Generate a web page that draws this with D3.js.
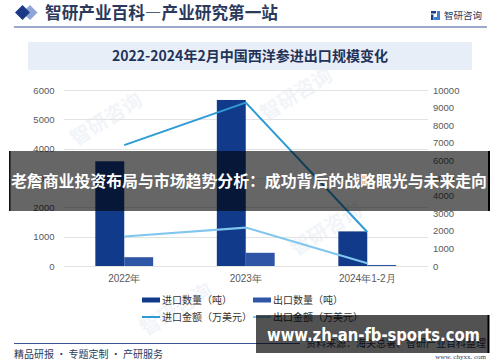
<!DOCTYPE html>
<html lang="zh">
<head>
<meta charset="utf-8">
<script src="https://d3js.org/d3.v7.min.js"></script>
<style type="text/css">
body {
  margin: 0;
  background: #fff;
  font-family: "Liberation Sans", "Noto Sans CJK SC", sans-serif;
}
.grid line {
  stroke: #e3e3e3;
  stroke-width: 1;
}
.axis text {
  font: 9.5px "Liberation Sans", sans-serif;
  fill: #595959;
}
.cn {
  font-family: "Noto Sans CJK SC", sans-serif;
}
</style>
<title>2022-2024年2月中国西洋参进出口规模变化</title>
</head>
<body>
<script type="text/javascript">
// data
var years = ["2022年", "2023年", "2024年1-2月"];
var importQty = [3570, 5660, 1180];    // 吨
var exportQty = [300, 450, 35];        // 吨
var importAmt = [6870, 9280, 1930];    // 万美元
var exportAmt = [1680, 2180, 160];     // 万美元
var leftTicks = [0, 1000, 2000, 3000, 4000, 5000, 6000];
var rightTicks = [0, 1000, 2000, 3000, 4000, 5000, 6000, 7000, 8000, 9000, 10000];

var colors = ["#123a8a", "#2f56a6", "#2e9ad6", "#80c6ee"];
var legendNames = ["进口数量（吨）", "出口数量（吨）", "进口金额（万美元）", "出口金额（万美元）"];

var W = 500, H = 362;
var plot = {left: 63.5, right: 428, top: 90, bottom: 266};

var svg = d3.select("body").append("svg")
    .attr("width", W)
    .attr("height", H);

// faint watermarks
var wm = [[110, 125], [300, 100], [180, 315], [330, 235]];
wm.forEach(function(p) {
  svg.append("text")
    .attr("class", "cn")
    .attr("transform", "translate(" + p[0] + "," + p[1] + ") rotate(-32)")
    .attr("text-anchor", "middle")
    .style("font-size", "20px")
    .style("font-weight", "bold")
    .attr("fill", "#f1f4f9")
    .text("智研咨询");
});

// header
svg.append("path")
  .attr("d", "M30,5 L37.5,12.5 L30,20 L26,16 L29.5,12.5 L26,9 Z")
  .attr("fill", "#8ea6d6");
svg.append("path")
  .attr("d", "M22.5,5 L30,12.5 L22.5,20 L15,12.5 Z")
  .attr("fill", "#1a3a88");
svg.append("text")
  .attr("class", "cn")
  .attr("x", 45)
  .attr("y", 19)
  .attr("textLength", 233)
  .attr("lengthAdjust", "spacingAndGlyphs")
  .style("font-size", "17px")
  .style("font-weight", "bold")
  .attr("fill", "#2b3a5c")
  .text("智研产业百科—产业研究第一站");
svg.append("line")
  .attr("x1", 14).attr("x2", 487)
  .attr("y1", 27).attr("y2", 27)
  .attr("stroke", "#3a5592").attr("stroke-width", 1);

// small logo top right
var logo = svg.append("g").attr("transform", "translate(431,11)");
logo.append("rect").attr("x", 0).attr("y", 0).attr("width", 5).attr("height", 2.5).attr("fill", "#1a3a88");
logo.append("rect").attr("x", 0).attr("y", 3.5).attr("width", 2.5).attr("height", 5.5).attr("fill", "#1a3a88");
logo.append("rect").attr("x", 6).attr("y", 0).attr("width", 3).attr("height", 9).attr("fill", "#3c7fd0");
logo.append("rect").attr("x", 3).attr("y", 6).attr("width", 3).attr("height", 3).attr("fill", "#3c7fd0");
svg.append("text")
  .attr("class", "cn")
  .attr("x", 444)
  .attr("y", 19)
  .style("font-size", "9.5px")
  .attr("fill", "#2b3a5c")
  .text("智研咨询");

// title box
svg.append("rect")
  .attr("x", 28).attr("y", 42)
  .attr("width", 444).attr("height", 28)
  .attr("fill", "#e8eef8");
svg.append("text")
  .attr("class", "cn")
  .attr("x", 250)
  .attr("y", 61)
  .attr("text-anchor", "middle")
  .attr("textLength", 276)
  .attr("lengthAdjust", "spacingAndGlyphs")
  .style("font-size", "14px")
  .style("font-weight", "bold")
  .attr("fill", "#1f3358")
  .text("2022-2024年2月中国西洋参进出口规模变化");

// scales
var x = d3.scaleBand()
  .domain(years)
  .range([plot.left, plot.right]);
var yL = d3.scaleLinear().domain([0, 6000]).range([plot.bottom, plot.top]);
var yR = d3.scaleLinear().domain([0, 10000]).range([plot.bottom, plot.top]);
var barW = x.bandwidth() * 0.238;

// gridlines
svg.append("g")
  .attr("class", "grid")
  .selectAll("line")
  .data(leftTicks)
  .enter()
  .append("line")
    .attr("x1", plot.left).attr("x2", plot.right)
    .attr("y1", function(d) { return Math.round(yL(d)) + 0.5; })
    .attr("y2", function(d) { return Math.round(yL(d)) + 0.5; });

// axes
svg.append("g")
  .attr("class", "axis")
  .attr("transform", "translate(" + (plot.left - 5) + ",0)")
  .call(d3.axisLeft(yL).tickValues(leftTicks).tickSize(0).tickPadding(4).tickFormat(d3.format("d")))
  .call(function(g) { g.select(".domain").remove(); });

svg.append("g")
  .attr("class", "axis")
  .attr("transform", "translate(" + (plot.right + 1) + ",0)")
  .call(d3.axisRight(yR).tickValues(rightTicks).tickSize(0).tickPadding(4).tickFormat(d3.format("d")))
  .call(function(g) { g.select(".domain").remove(); });

svg.append("g")
  .attr("class", "axis")
  .attr("transform", "translate(0," + (plot.bottom + 4) + ")")
  .call(d3.axisBottom(x).tickSize(0).tickPadding(5))
  .call(function(g) { g.select(".domain").remove(); })
  .selectAll("text")
    .attr("class", "cn")
    .style("font-size", "10px")
    .attr("fill", "#333");

// bars
svg.append("g")
  .selectAll("rect")
  .data(importQty)
  .enter()
  .append("rect")
    .attr("x", function(d, i) { return x(years[i]) + x.bandwidth() / 2 - barW; })
    .attr("y", function(d) { return yL(d); })
    .attr("width", barW)
    .attr("height", function(d) { return plot.bottom - yL(d); })
    .attr("fill", colors[0]);

svg.append("g")
  .selectAll("rect")
  .data(exportQty)
  .enter()
  .append("rect")
    .attr("x", function(d, i) { return x(years[i]) + x.bandwidth() / 2; })
    .attr("y", function(d) { return yL(d); })
    .attr("width", barW)
    .attr("height", function(d) { return plot.bottom - yL(d); })
    .attr("fill", colors[1]);

// lines
var line = d3.line()
  .x(function(d, i) { return x(years[i]) + x.bandwidth() / 2; })
  .y(function(d) { return yR(d); });

svg.append("path")
  .datum(importAmt)
  .attr("d", line)
  .attr("fill", "none")
  .attr("stroke", colors[2])
  .attr("stroke-width", 2);

svg.append("path")
  .datum(exportAmt)
  .attr("d", line)
  .attr("fill", "none")
  .attr("stroke", colors[3])
  .attr("stroke-width", 2);

// legend
var legPos = [[142, 300], [253, 300], [142, 317], [253, 317]];
legendNames.forEach(function(name, i) {
  var g = svg.append("g").attr("transform", "translate(" + legPos[i][0] + "," + legPos[i][1] + ")");
  if (i < 2) {
    g.append("rect").attr("x", 0).attr("y", -2.5).attr("width", 18).attr("height", 5).attr("fill", colors[i]);
  } else {
    g.append("line").attr("x1", 0).attr("x2", 18).attr("y1", 0).attr("y2", 0)
      .attr("stroke", colors[i]).attr("stroke-width", 2);
  }
  g.append("text")
    .attr("class", "cn")
    .attr("x", 20)
    .attr("y", 3.5)
    .style("font-size", "10px")
    .attr("fill", "#333")
    .text(name);
});

// footer
svg.append("line")
  .attr("x1", 14).attr("x2", 300)
  .attr("y1", 343.5).attr("y2", 343.5)
  .attr("stroke", "#3a5592").attr("stroke-width", 1);
svg.append("text")
  .attr("class", "cn")
  .attr("x", 14)
  .attr("y", 358)
  .style("font-size", "10px")
  .attr("fill", "#2b3a5c")
  .text("精品研报 · 专题定制 · 产研服务");
svg.append("text")
  .attr("class", "cn")
  .attr("x", 486)
  .attr("y", 347)
  .attr("text-anchor", "end")
  .style("font-size", "10px")
  .attr("fill", "#2b3a5c")
  .text("资料来源：海关总署、智研产业百科整理");
svg.append("text")
  .attr("x", 486)
  .attr("y", 359)
  .attr("text-anchor", "end")
  .style("font-family", "'Liberation Serif', serif")
  .style("font-size", "7px")
  .attr("fill", "#2b3a5c")
  .text("www. chyxx. com");

// overlay banners
svg.append("rect")
  .attr("x", 10).attr("y", 151)
  .attr("width", 479).attr("height", 60)
  .attr("fill", "rgba(0,0,0,0.6)");
svg.append("rect").attr("x", 9).attr("y", 151).attr("width", 1.5).attr("height", 60).attr("fill", "#111");
svg.append("rect").attr("x", 488).attr("y", 151).attr("width", 2).attr("height", 60).attr("fill", "#000");
svg.append("text")
  .attr("class", "cn")
  .attr("x", 11)
  .attr("y", 186.5)
  .attr("textLength", 476)
  .attr("lengthAdjust", "spacingAndGlyphs")
  .style("font-size", "15.5px")
  .style("font-weight", "bold")
  .attr("fill", "#fff")
  .text("老詹商业投资布局与市场趋势分析：成功背后的战略眼光与未来走向");

svg.append("rect")
  .attr("x", 256).attr("y", 315)
  .attr("width", 233).attr("height", 38)
  .attr("fill", "rgba(0,0,0,0.68)");
svg.append("rect").attr("x", 487.5).attr("y", 315).attr("width", 2).attr("height", 38).attr("fill", "#000");
svg.append("text")
  .attr("x", 267)
  .attr("y", 341)
  .attr("textLength", 213)
  .attr("lengthAdjust", "spacingAndGlyphs")
  .style("font-family", "'DejaVu Sans', sans-serif")
  .style("font-size", "18px")
  .style("font-weight", "bold")
  .attr("fill", "#fff")
  .text("www.zh-an-fb-sports.com");
</script>
</body>
</html>
